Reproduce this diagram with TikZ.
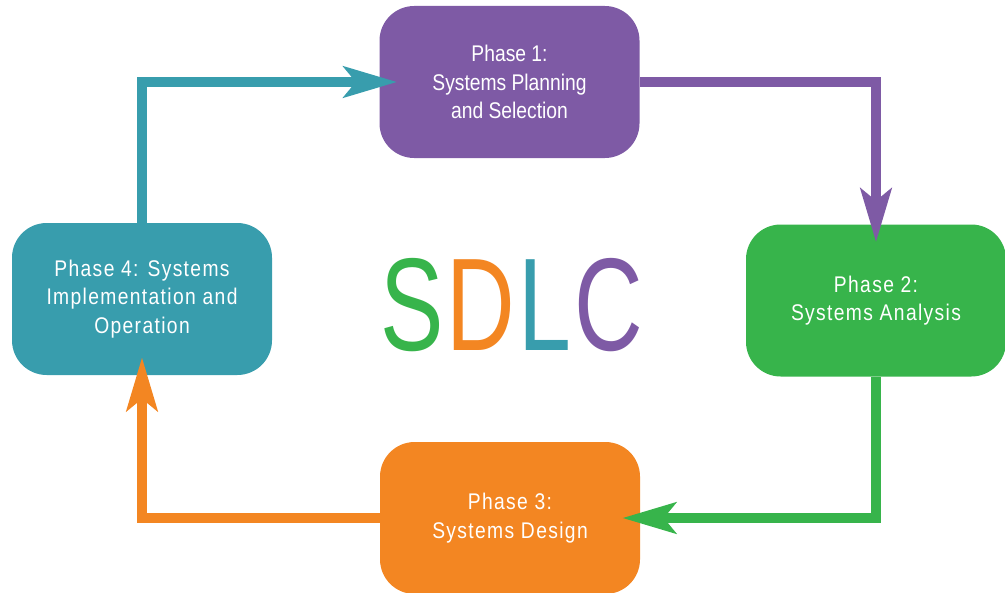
\documentclass[tikz,border=0pt]{standalone}
\usepackage{fontspec}
\usepackage{tikz}
\usetikzlibrary{arrows.meta, positioning}
\newfontfamily\phasefont[FakeStretch=0.85]{Liberation Sans}
\newfontfamily\phasefontwide[FakeStretch=0.85,LetterSpace=6]{Liberation Sans}
\newfontfamily\titlefont[FakeStretch=0.72]{Liberation Sans}
\definecolor{sdlcpurple}{HTML}{7E5AA5}
\definecolor{sdlcgreen}{HTML}{37B44B}
\definecolor{sdlcorange}{HTML}{F38622}
\definecolor{sdlcteal}{HTML}{389DAD}

\begin{document}
\begin{tikzpicture}[
        x=0.75pt, y=-0.75pt,
        phase/.style={rounded corners=26pt, minimum width=195pt, minimum height=114pt,
            text=white, align=center, inner sep=0pt,
            font=\phasefont\fontsize{17}{21.5}\selectfont},
        wide/.style={font=\phasefontwide\fontsize{17}{21.5}\selectfont},
        flow/.style={line width=7.5pt, -{Stealth[length=40pt, width=23pt, inset=9pt]},
            shorten >=-13.5pt},
        letter/.style={font=\titlefont\fontsize{99}{99}\selectfont, inner sep=0pt, anchor=base}
    ]
        \useasboundingbox (0,0) rectangle (1005,592);
        % the four phases
        \node[phase, fill=sdlcpurple] (p1) at (509.5,82) {Phase 1:\\Systems Planning\\and Selection};
        \node[phase, wide, fill=sdlcgreen] (p2) at (876,300.5) {Phase 2:\\Systems Analysis};
        \node[phase, wide, fill=sdlcorange] (p3) at (510,518) {Phase 3:\\Systems Design};
        \node[phase, wide, fill=sdlcteal] (p4) at (142,299) {Phase 4: Systems\\Implementation and\\Operation};
        % cycle
        \draw[flow, sdlcteal] (p4.north) |- (p1.west);
        \draw[flow, sdlcpurple] (p1.east) -| (p2.north);
        \draw[flow, sdlcgreen] (p2.south) |- (p3.east);
        \draw[flow, sdlcorange] (p3.west) -| (p4.south);
        % title letters
        \node[letter, text=sdlcgreen] (s) at (412,350) {S};
        \node[letter, text=sdlcorange, right=2pt of s.base east, anchor=base west] (d) {D};
        \node[letter, text=sdlcteal, right=2pt of d.base east, anchor=base west] (l) {L};
        \node[letter, text=sdlcpurple, right=2pt of l.base east, anchor=base west] (c) {C};
    \end{tikzpicture}
\end{document}
